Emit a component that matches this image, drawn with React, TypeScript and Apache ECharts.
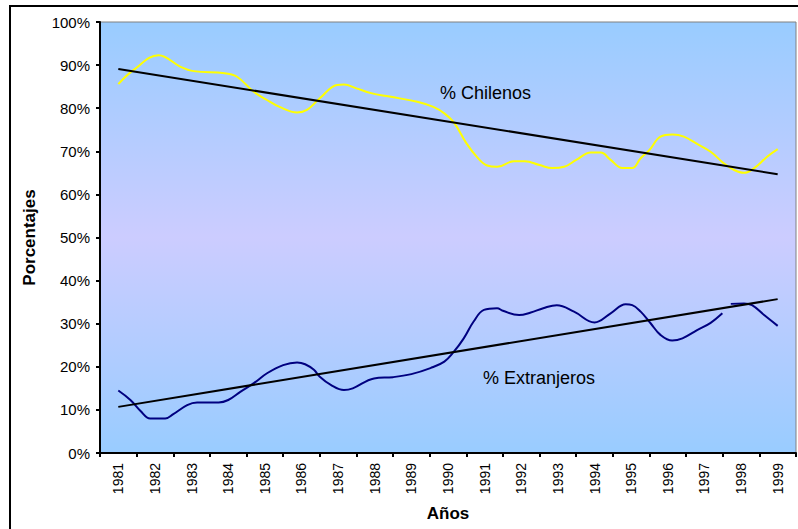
import React, { useEffect, useRef } from "react";
import * as echarts from "echarts";

const years = [
  "1981", "1982", "1983", "1984", "1985", "1986", "1987", "1988", "1989", "1990",
  "1991", "1992", "1993", "1994", "1995", "1996", "1997", "1998", "1999",
];

const chilenosX = [
  1981.0, 1981.42, 1982.1, 1982.7, 1983.06, 1983.9, 1984.24, 1984.7, 1985.06, 1985.4,
  1985.88, 1986.15, 1986.5, 1986.97, 1987.16, 1987.5, 1987.9, 1988.4, 1989.16, 1989.6,
  1989.9, 1990.16, 1990.5, 1990.8, 1991.07, 1991.34, 1991.8, 1992.1, 1992.5, 1992.85,
  1993.17, 1993.5, 1993.9, 1994.17, 1994.44, 1994.76, 1995.03, 1995.26, 1995.5, 1995.8,
  1996.13, 1996.44, 1996.8, 1997.17, 1997.53, 1997.8, 1998.08, 1998.36, 1998.72, 1999.0,
];
const chilenosY = [
  85.6, 88.9, 92.3, 89.6, 88.6, 88.1, 87.3, 83.8, 81.9, 80.3,
  79.0, 79.6, 82.3, 85.4, 85.5, 84.6, 83.5, 82.7, 81.5, 80.3,
  78.8, 76.7, 71.9, 68.6, 66.7, 66.4, 67.7, 67.7, 66.8, 66.1,
  66.4, 68.0, 69.7, 69.7, 68.0, 66.1, 66.1, 68.4, 70.3, 73.4,
  73.9, 73.4, 71.7, 69.9, 67.2, 65.7, 65.0, 66.1, 68.8, 70.5,
];

const extranjerosX = [
  1981.0, 1981.33, 1981.6, 1981.87, 1982.28, 1982.5, 1982.88, 1983.15, 1983.74, 1984.0,
  1984.33, 1984.7, 1985.06, 1985.5, 1985.88, 1986.1, 1986.34, 1986.5, 1986.8, 1987.16,
  1987.4, 1987.98, 1988.5, 1989.0, 1989.52, 1989.9, 1990.16, 1990.43, 1990.7, 1990.98,
  1991.34, 1991.5, 1991.94, 1992.26, 1992.6, 1992.97, 1993.44, 1994.0, 1994.44, 1994.85,
  1995.03, 1995.26, 1995.53, 1995.8, 1996.12, 1996.4, 1996.8, 1997.17, 1997.49, 1997.6,
  1997.72, 1998.08, 1998.3, 1998.63, 1999.0,
];
const extranjerosY = [
  14.5, 12.3, 9.8, 8.0, 8.0, 9.0, 11.1, 11.7, 11.7, 12.3,
  14.2, 16.2, 18.5, 20.4, 21.0, 20.6, 19.3, 17.7, 15.8, 14.6,
  15.0, 17.3, 17.6, 18.3, 19.7, 21.2, 23.5, 26.6, 30.5, 33.2,
  33.6, 33.0, 32.0, 32.6, 33.6, 34.3, 32.8, 30.3, 32.4, 34.5,
  34.3, 32.8, 30.1, 27.4, 26.1, 26.6, 28.5, 30.2, 32.4, null,
  34.6, 34.7, 34.3, 32.0, 29.5,
];

const trendX = [1981, 1999];
const trendChilenosY = [89.1, 64.7];
const trendExtranjerosY = [10.7, 35.7];

const seriesLabels = ["% Chilenos", "% Extranjeros"];
const axisNames = { x: "Años", y: "Porcentajes" };

const zip = (xs: number[], ys: (number | null)[]) => xs.map((x, i) => [x, ys[i]]);

export default function App() {
  const ref = useRef<HTMLDivElement>(null);

  useEffect(() => {
    if (!ref.current) return;
    const chart = echarts.init(ref.current, null, { renderer: "svg" });
    const font = 'Arial, "Liberation Sans", sans-serif';

    chart.setOption({
      animation: false,
      backgroundColor: "#ffffff",
      grid: {
        left: 100,
        right: 2,
        top: 22,
        bottom: 76,
        show: true,
        borderColor: "#808080",
        borderWidth: 1,
        backgroundColor: new echarts.graphic.LinearGradient(0, 0, 0, 1, [
          { offset: 0, color: "#99CCFF" },
          { offset: 0.5, color: "#CCCCFF" },
          { offset: 1, color: "#99CCFF" },
        ]),
      },
      xAxis: [
        {
          type: "category",
          data: years,
          boundaryGap: true,
          name: axisNames.x,
          nameLocation: "middle",
          nameGap: 52,
          nameTextStyle: { fontFamily: font, fontWeight: "bold", fontSize: 17, color: "#000" },
          axisLine: { lineStyle: { color: "#000", width: 2 } },
          axisTick: { show: true, length: 4, lineStyle: { color: "#000", width: 2 } },
          axisLabel: {
            rotate: 90,
            margin: 10,
            fontFamily: font,
            fontSize: 14,
            color: "#000",
            interval: 0,
          },
          splitLine: { show: false },
        },
        {
          type: "value",
          min: 1980.5,
          max: 1999.5,
          show: false,
          splitLine: { show: false },
        },
      ],
      yAxis: {
        type: "value",
        min: 0,
        max: 100,
        interval: 10,
        name: axisNames.y,
        nameLocation: "middle",
        nameGap: 62,
        nameTextStyle: { fontFamily: font, fontWeight: "bold", fontSize: 17, color: "#000" },
        axisLine: { show: true, lineStyle: { color: "#000", width: 2 } },
        axisTick: { show: true, length: 4, lineStyle: { color: "#000", width: 2 } },
        axisLabel: {
          formatter: "{value}%",
          margin: 10,
          fontFamily: font,
          fontSize: 15,
          color: "#000",
          padding: [7, 0, 0, 0],
        },
        splitLine: { show: false },
      },
      graphic: [
        {
          type: "rect",
          shape: { x: 10, y: 6, width: 820, height: 560 },
          style: { fill: "none", stroke: "#000", lineWidth: 2 },
          silent: true,
        },
        {
          type: "text",
          left: 440,
          top: 84,
          style: { text: seriesLabels[0], fontFamily: font, fontSize: 18, fill: "#000" },
        },
        {
          type: "text",
          left: 483,
          top: 369,
          style: { text: seriesLabels[1], fontFamily: font, fontSize: 18, fill: "#000" },
        },
      ],
      series: [
        {
          name: seriesLabels[0],
          type: "line",
          xAxisIndex: 1,
          data: zip(chilenosX, chilenosY),
          smooth: 0.4,
          showSymbol: false,
          symbol: "none",
          lineStyle: { color: "#FFFF00", width: 2 },
        },
        {
          name: seriesLabels[1],
          type: "line",
          xAxisIndex: 1,
          data: zip(extranjerosX, extranjerosY),
          smooth: 0.4,
          connectNulls: false,
          showSymbol: false,
          symbol: "none",
          lineStyle: { color: "#000080", width: 2 },
        },
        {
          type: "line",
          xAxisIndex: 1,
          data: zip(trendX, trendChilenosY),
          symbol: "none",
          lineStyle: { color: "#000", width: 2 },
        },
        {
          type: "line",
          xAxisIndex: 1,
          data: zip(trendX, trendExtranjerosY),
          symbol: "none",
          lineStyle: { color: "#000", width: 2 },
        },
      ],
    });

    return () => chart.dispose();
  }, []);

  return (
    <div
      ref={ref}
      style={{ position: "fixed", left: 0, top: 0, width: 798, height: 529 }}
    />
  );
}
